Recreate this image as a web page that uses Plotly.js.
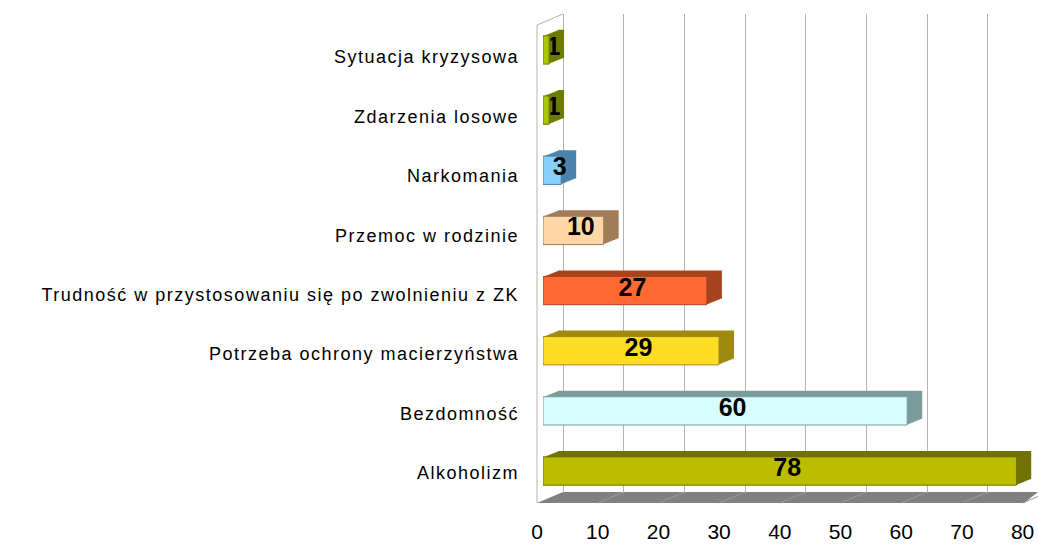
<!DOCTYPE html>
<html>
<head>
<meta charset="utf-8">
<script src="https://cdn.plot.ly/plotly-3.0.1.min.js"></script>
<style>
html,body{margin:0;padding:0;background:#fff;}
.y12tick text{letter-spacing:1.5px;}
</style>
</head>
<body>
<div id="chart" style="width:1038px;height:545px;"></div>
<script>
// ---- data (top to bottom as shown) ----
const categories = [
  "Sytuacja kryzysowa",
  "Zdarzenia losowe",
  "Narkomania",
  "Przemoc w rodzinie",
  "Trudność w przystosowaniu się po zwolnieniu z ZK",
  "Potrzeba ochrony macierzyństwa",
  "Bezdomność",
  "Alkoholizm"
];
const values = [1, 1, 3, 10, 27, 29, 60, 78];
const xTickValues = [0, 10, 20, 30, 40, 50, 60, 70, 80];

// ---- styles ----
const frontColors = ["#a9c800", "#a9c800", "#85d0ff", "#ffd7a6", "#ff6a33", "#ffdd22", "#d6ffff", "#bcbc00"];
const sideColors  = ["#6e7b00", "#6e7b00", "#4d82ad", "#a17d58", "#a8431f", "#a08912", "#7c9c9c", "#727200"];

// pixel -> paper helpers (plot area: x 530..1038, y 0..505)
const L = 530, W = 508, H = 505;
const fx = px => (px - L) / W;
const fy = py => (H - py) / H;
const SCALE = 6.07;        // px per unit
const X0 = 543;            // front face zero
const YB = 501.1, YT = 19.9; // category band edges (front)
const DEPTH_X = 15, DEPTH_Y = 6, NLAYERS = 8;

const font = "Liberation Sans, Arial, sans-serif";
const hidden = {showgrid: false, zeroline: false, showticklabels: false, ticks: "", showline: false, fixedrange: true};

const traces = [
  {type: "scatter", x: [], y: [], xaxis: "x", yaxis: "y", showlegend: false, hoverinfo: "skip"}
];
const layout = {
  width: 1038, height: 545, autosize: false,
  margin: {l: L, r: 0, t: 0, b: 40},
  paper_bgcolor: "#ffffff", plot_bgcolor: "rgba(0,0,0,0)",
  bargap: 0.53, showlegend: false,
  font: {family: font, color: "#000"},
  // back wall with gridlines
  xaxis: Object.assign({}, hidden, {domain: [fx(563), fx(563 + 78 * SCALE)], range: [0, 78], anchor: "y",
    showgrid: true, dtick: 10, tick0: 0, gridcolor: "#b3b3b3", gridwidth: 1,
    zeroline: true, zerolinecolor: "#b3b3b3", zerolinewidth: 1}),
  yaxis: Object.assign({}, hidden, {domain: [fy(493), fy(14)], range: [0, 1], anchor: "x", type: "linear"})
};

// extrusion layers (deepest first): axes 2..9
for (let k = 0; k < NLAYERS; k++) {
  const i = NLAYERS - k;               // depth step 8..1
  const dx = DEPTH_X * i / NLAYERS, dy = DEPTH_Y * i / NLAYERS;
  const n = k + 2;
  traces.push({type: "bar", orientation: "h", y: categories, x: values, xaxis: "x" + n, yaxis: "y" + n,
    marker: {color: sideColors, line: {width: 0}}, hoverinfo: "skip", showlegend: false});
  layout["xaxis" + n] = Object.assign({}, hidden, {domain: [fx(X0 + dx), fx(X0 + dx + 78 * SCALE)], range: [0, 78], anchor: "y" + n});
  layout["yaxis" + n] = Object.assign({}, hidden, {domain: [fy(YB - dy), fy(YT - dy)], range: [7.5, -0.5], anchor: "x" + n, type: "category"});
}

// front faces: axis 10 (with x tick labels)
traces.push({type: "bar", orientation: "h", y: categories, x: values, xaxis: "x10", yaxis: "y10",
  marker: {color: frontColors, line: {color: sideColors, width: 1}},
  hovertemplate: "%{y}: %{x}<extra></extra>", showlegend: false});
layout.xaxis10 = Object.assign({}, hidden, {domain: [fx(X0), fx(X0 + 80 * SCALE)], range: [0, 80], anchor: "y10",
  showticklabels: true, tickmode: "array", tickvals: xTickValues, ticktext: xTickValues.map(String),
  tickfont: {family: font, size: 21, color: "#000"}, ticklabelshift: -6, ticklabelstandoff: 16});
layout.yaxis10 = Object.assign({}, hidden, {domain: [fy(YB), fy(YT)], range: [7.5, -0.5], anchor: "x10", type: "category"});

// value labels: axis 11 (centred over the whole 3D bar)
traces.push({type: "bar", orientation: "h", y: categories, x: values, xaxis: "x11", yaxis: "y11",
  marker: {color: "rgba(0,0,0,0)"}, text: values.map(String),
  textposition: "inside", insidetextanchor: "middle", textangle: 0, constraintext: "none",
  insidetextfont: {family: font, size: 25, color: "#000", weight: "bold"},
  hoverinfo: "skip", showlegend: false});
layout.xaxis11 = Object.assign({}, hidden, {domain: [fx(X0 + DEPTH_X / 2), fx(X0 + DEPTH_X / 2 + 78 * SCALE)], range: [0, 78], anchor: "y11"});
layout.yaxis11 = Object.assign({}, hidden, {domain: [fy(YB - 4), fy(YT - 4)], range: [7.5, -0.5], anchor: "x11", type: "category"});

// category labels: axis 12 (invisible carrier trace)
traces.push({type: "scatter", mode: "none", y: categories, x: values, xaxis: "x10", yaxis: "y12",
  hoverinfo: "skip", showlegend: false});
layout.yaxis12 = Object.assign({}, hidden, {domain: [fy(502.7), fy(27.3)], range: [7.5, -0.5], anchor: "x10", type: "category",
  showticklabels: true, tickfont: {family: font, size: 18, color: "#000"}, ticklabelstandoff: 23});

// decorations: left wall and floor
const shapes = [
  {type: "path", xref: "paper", yref: "paper", layer: "below",
   path: `M ${fx(537)} ${fy(503)} L ${fx(563)} ${fy(492)} L ${fx(1038)} ${fy(492)} L ${fx(1024)} ${fy(503)} Z`,
   fillcolor: "#808080", line: {width: 0}},
  {type: "line", xref: "paper", yref: "paper", layer: "below",
   x0: fx(537), y0: fy(503), x1: fx(537), y1: fy(25), line: {color: "#b3b3b3", width: 1}},
  {type: "line", xref: "paper", yref: "paper", layer: "below",
   x0: fx(537), y0: fy(25), x1: fx(563), y1: fy(14), line: {color: "#b3b3b3", width: 1}}
];
xTickValues.slice(1).forEach(v => {
  const d = v * SCALE;
  shapes.push({type: "line", xref: "paper", yref: "paper", layer: "below",
    x0: fx(537 + d), y0: fy(503), x1: fx(563 + d), y1: fy(492),
    line: {color: "#999999", width: 1}});
});
layout.shapes = shapes;

Plotly.newPlot("chart", traces, layout, {displayModeBar: false, staticPlot: true});
</script>
</body>
</html>
